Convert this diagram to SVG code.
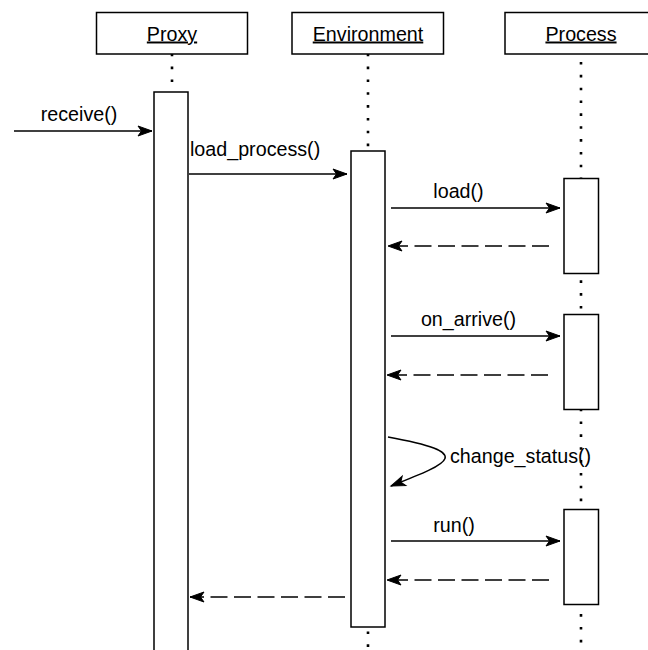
<svg xmlns="http://www.w3.org/2000/svg" width="648" height="650" viewBox="0 0 648 650">
  <style>
    .box { fill: #fff; stroke: #000; stroke-width: 1.5; }
    .life { stroke: #000; stroke-width: 2.6; stroke-dasharray: 2.6 10.24; fill: none; }
    .msg { stroke: #000; stroke-width: 1.5; fill: none; }
    .ret { stroke: #000; stroke-width: 1.5; fill: none; stroke-dasharray: 17 6.5; }
    .head { font-family: "Liberation Sans", Arial, sans-serif; font-size: 19.7px; text-anchor: middle; text-decoration: underline; fill: #000; }
    .lbl { font-family: "Liberation Sans", Arial, sans-serif; font-size: 19.7px; fill: #000; }
  </style>
  <defs>
    <marker id="arrow" viewBox="-16 -7 18 14" refX="0" refY="0" markerWidth="18" markerHeight="14" markerUnits="userSpaceOnUse" orient="auto">
      <path d="M0,0 L-14,-5 L-10.5,0 L-14,5 Z" fill="#000" stroke="#000" stroke-width="1" stroke-linejoin="miter"/>
    </marker>
  </defs>
  <rect width="648" height="650" fill="#fff"/>

  <!-- lifelines -->
  <g id="lifelines">
    <line class="life" x1="172" y1="53.7" x2="172" y2="650"/>
    <line class="life" x1="368" y1="53.7" x2="368" y2="650"/>
    <line class="life" x1="581" y1="62" x2="581" y2="650"/>
  </g>

  <!-- participants -->
  <g id="proxy">
    <rect class="box" x="96.5" y="12.5" width="151" height="41.5"/>
    <text class="head" x="172" y="40.5">Proxy</text>
    <rect class="box" x="154" y="92" width="34" height="600"/>
  </g>
  <g id="environment">
    <rect class="box" x="292" y="12.5" width="151.5" height="41.5"/>
    <text class="head" x="368" y="40.5">Environment</text>
    <rect class="box" x="351" y="151" width="34" height="476"/>
  </g>
  <g id="process">
    <rect class="box" x="505" y="12.5" width="152" height="41.5"/>
    <text class="head" x="581" y="40.5">Process</text>
    <rect class="box" x="564" y="178.5" width="34.5" height="95"/>
    <rect class="box" x="564" y="314.5" width="34.5" height="95"/>
    <rect class="box" x="564" y="509.5" width="34.5" height="95"/>
  </g>

  <!-- messages -->
  <g id="connectors">
    <line class="msg" x1="14" y1="131" x2="152" y2="131" marker-end="url(#arrow)"/>
    <line class="msg" x1="189" y1="174" x2="347" y2="174" marker-end="url(#arrow)"/>
    <line class="msg" x1="391" y1="208" x2="560" y2="208" marker-end="url(#arrow)"/>
    <line class="ret" x1="549" y1="246" x2="388" y2="246" marker-end="url(#arrow)"/>
    <line class="msg" x1="391" y1="336" x2="560" y2="336" marker-end="url(#arrow)"/>
    <line class="ret" x1="548" y1="375" x2="387" y2="375" marker-end="url(#arrow)"/>
    <path class="msg" d="M388,437 C475,453 452,462 391,486" marker-end="url(#arrow)"/>
    <line class="msg" x1="391" y1="541" x2="560" y2="541" marker-end="url(#arrow)"/>
    <line class="ret" x1="549" y1="580" x2="387" y2="580" marker-end="url(#arrow)"/>
    <line class="ret" x1="345" y1="597" x2="190" y2="597" marker-end="url(#arrow)"/>
  </g>

  <!-- message labels -->
  <g id="labels">
    <text class="lbl" x="79" y="121" text-anchor="middle">receive()</text>
    <text class="lbl" x="190" y="156">load_process()</text>
    <text class="lbl" x="458.5" y="198" text-anchor="middle">load()</text>
    <text class="lbl" x="468.5" y="326" text-anchor="middle">on_arrive()</text>
    <text class="lbl" x="450" y="462.5">change_status()</text>
    <text class="lbl" x="454" y="531.5" text-anchor="middle">run()</text>
  </g>
</svg>
